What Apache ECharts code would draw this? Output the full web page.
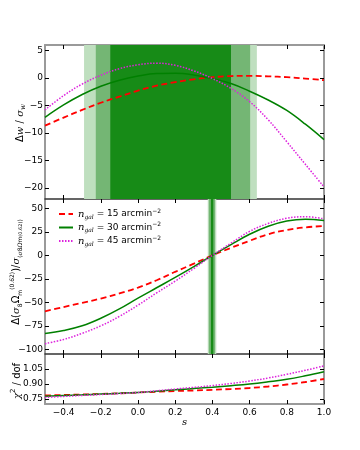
<!DOCTYPE html>
<html><head><meta charset="utf-8">
<script src="https://cdn.jsdelivr.net/npm/echarts@6/dist/echarts.min.js"></script>
<style>html,body{margin:0;padding:0;background:#fff}#c{width:360px;height:450px}</style>
</head><body><div id="c"></div>
<script>
const S = [-0.5,-0.4,-0.3,-0.2,-0.1,0.0,0.1,0.2,0.3,0.4,0.5,0.6,0.7,0.8,0.9,1.0];
const dw15 = [-8.66,-7.2,-5.8,-4.5,-3.4,-2.3,-1.4,-0.75,-0.25,0.15,0.35,0.4,0.3,0.15,-0.1,-0.4];
const dw30 = [-7.15,-4.9,-3.0,-1.5,-0.4,0.35,0.8,0.85,0.55,-0.1,-1.0,-2.4,-4.0,-5.9,-8.4,-11.2];
const dw45 = [-5.8,-3.2,-1.1,0.5,1.7,2.4,2.7,2.3,1.3,-0.1,-1.9,-4.3,-7.6,-11.6,-15.7,-19.8];
const dsig15 = [-59.5,-55,-50.5,-46,-40.5,-34.3,-26.5,-17.5,-8.8,0,8,15.5,22.5,27,29.8,31.3];
const dsig30 = [-83.3,-80,-75,-67,-57,-45.5,-34.5,-23.5,-12,0,11.5,22.5,31,36.5,38.4,37.2];
const dsig45 = [-94,-89.5,-83,-75,-65,-53,-40,-27.5,-14,0,13,25.5,34,39.5,41.2,38.8];
const chi15 = [0.785,0.79,0.795,0.8,0.807,0.815,0.822,0.83,0.835,0.842,0.85,0.86,0.875,0.895,0.92,0.95];
const chi30 = [0.778,0.785,0.792,0.8,0.807,0.815,0.828,0.842,0.855,0.868,0.883,0.9,0.922,0.947,0.982,1.022];
const chi45 = [0.766,0.776,0.786,0.795,0.805,0.815,0.832,0.85,0.866,0.884,0.905,0.93,0.96,0.997,1.037,1.081];
const band1 = [[-0.29,0.639],[-0.227,0.603],[-0.149,0.5]];
const band2 = [[0.375,0.421],[0.381,0.414],[0.392,0.405]];
const xTicks = [-0.4,-0.2,0.0,0.2,0.4,0.6,0.8,1.0];
const dwTicks = [5,0,-5,-10,-15,-20];
const dsigTicks = [50,25,0,-25,-50,-75,-100];
const chiTicks = [0.75,0.90,1.05];
const names = ['n15','n30','n45'];
const ngal = ['15','30','45'];

const bandColors = ['#bfdfbf','#74b674','#178b17'];
const FONT = 'DejaVu Sans';
const minus = s => s.replace('-', '\u2212');
const fmtX = v => minus(v.toFixed(1));
const fmtI = v => minus(String(Math.round(v)));
const fmtC = v => v.toFixed(2);

const grids = [
  {left:45, right:36, top:45, height:154},
  {left:45, right:36, top:199, height:155},
  {left:45, right:36, top:354, height:50}
];
const yRanges = [[-22,6],[-105,60],[0.70,1.20]];
const yTicks = [dwTicks, dsigTicks, chiTicks];
const yFmt = [fmtI, fmtI, fmtC];
const frame = '#9a9a9a';
const inner = '#333';

const xAxis = [], yAxis = [];
for (let g = 0; g < 3; g++) {
  xAxis.push({
    type:'value', gridIndex:g, position:'bottom', min:-0.5, max:1.0,
    axisLine:{show:true, onZero:false, lineStyle:{color: g<2?inner:frame, width: g<2?1.5:2}},
    axisTick:{show:true, inside:true, length:4, customValues:xTicks, lineStyle:{color:'#000'}},
    axisLabel:{show:g===2, customValues:xTicks, formatter:fmtX, color:'#000', fontFamily:FONT, fontSize:9, margin:4, showMaxLabel:true},
    splitLine:{show:false},
    name: g===2 ? 's' : '', nameLocation:'middle', nameGap:12,
    nameTextStyle:{fontStyle:'italic', fontFamily:'DejaVu Serif', fontSize:10, color:'#000'}
  });
  xAxis.push({
    type:'value', gridIndex:g, position:'top', min:-0.5, max:1.0,
    axisLine:{show:g===0, onZero:false, lineStyle:{color:frame, width:2}},
    axisTick:{show:true, inside:true, length:4, customValues:xTicks, lineStyle:{color:'#000'}},
    axisLabel:{show:false}, splitLine:{show:false}
  });
  yAxis.push({
    type:'value', gridIndex:g, position:'left', min:yRanges[g][0], max:yRanges[g][1],
    axisLine:{show:true, onZero:false, lineStyle:{color:frame, width:2}},
    axisTick:{show:true, inside:true, length:4, customValues:yTicks[g], lineStyle:{color:'#000'}},
    axisLabel:{show:true, customValues:yTicks[g], formatter:yFmt[g], color:'#000', fontFamily:FONT, fontSize:9, margin:2},
    splitLine:{show:false}
  });
  yAxis.push({
    type:'value', gridIndex:g, position:'right', min:yRanges[g][0], max:yRanges[g][1],
    axisLine:{show:true, onZero:false, lineStyle:{color:frame, width:2}},
    axisTick:{show:true, inside:true, length:4, customValues:yTicks[g], lineStyle:{color:'#000'}},
    axisLabel:{show:false}, splitLine:{show:false}
  });
}

const styles = [
  {color:'#ff0000', width:1.8, type:[6,3.5]},
  {color:'#008000', width:1.5, type:'solid'},
  {color:'#dd22dd', width:1.5, type:[1.5,1.5]}
];
const panelData = [[dw15,dw30,dw45],[dsig15,dsig30,dsig45],[chi15,chi30,chi45]];
const series = [];
[[band1,0],[band2,1]].forEach(([band,g]) => {
  series.push({
    type:'line', xAxisIndex:2*g, yAxisIndex:2*g, data:S.map((s,i)=>[s,panelData[g][1][i]]),
    symbol:'none', lineStyle:{opacity:0}, silent:true, z:1, legendHoverLink:false,
    markArea:{silent:true, data: band.map((b,k)=>[{xAxis:b[0], itemStyle:{color:bandColors[k], opacity:1}},{xAxis:b[1]}])}
  });
});
for (let g = 0; g < 3; g++) {
  for (let k = 0; k < 3; k++) {
    series.push({
      type:'line', name:names[k], xAxisIndex:2*g, yAxisIndex:2*g,
      data:S.map((s,i)=>[s, panelData[g][k][i]]),
      symbol:'none', smooth:0.4, z:3,
      lineStyle:styles[k], itemStyle:{color:styles[k].color}
    });
  }
}

const chart = echarts.init(document.getElementById('c'), null, {renderer:'canvas'});
chart.setOption({
  animation:false,
  backgroundColor:'#fff',
  grid:grids,
  xAxis, yAxis, series,
  legend:{
    data:names, orient:'vertical', left:53, top:203, itemGap:1.5, itemWidth:14, itemHeight:10,
    itemStyle:{opacity:0},
    formatter: n => '{i|n}{sub|gal}{t| = ' + ngal[names.indexOf(n)] + ' arcmin}{sup|\u22122}',
    textStyle:{
      fontFamily:FONT, fontSize:9, color:'#000',
      rich:{
        t:{fontFamily:FONT, fontSize:9, lineHeight:12},
        i:{fontFamily:'DejaVu Serif', fontStyle:'italic', fontSize:10, lineHeight:12},
        sub:{fontFamily:'DejaVu Serif', fontStyle:'italic', fontSize:6, lineHeight:12, verticalAlign:'bottom'},
        sup:{fontFamily:FONT, fontSize:6, lineHeight:12, verticalAlign:'top'}
      }
    }
  },
  graphic:[
    {type:'text', x:20, y:123, rotation:Math.PI/2, style:{
      text:'{t|\u0394}{i|w}{t| / }{i|\u03c3}{s|w}', align:'center', verticalAlign:'middle',
      rich:{t:{fontFamily:FONT,fontSize:10,lineHeight:14}, i:{fontFamily:'DejaVu Serif',fontStyle:'italic',fontSize:10,lineHeight:14}, s:{fontFamily:'DejaVu Serif',fontStyle:'italic',fontSize:7,lineHeight:14,verticalAlign:'bottom'}}
    }},
    {type:'text', x:16, y:272, rotation:Math.PI/2, style:{
      text:'{t|\u0394(}{i|\u03c3}{s|8}{t|\u03a9}{s|m}{p|(0.62)}{t|)/}{i|\u03c3}{s|(}{ss|\u03c3}{s|8}{ss|\u03a9}{s|m}{sp|(0.62)}{s|)}',
      align:'center', verticalAlign:'middle',
      rich:{
        t:{fontFamily:FONT,fontSize:10,lineHeight:14},
        i:{fontFamily:'DejaVu Serif',fontStyle:'italic',fontSize:10,lineHeight:14},
        s:{fontFamily:FONT,fontSize:6,lineHeight:14,verticalAlign:'bottom'},
        ss:{fontFamily:'DejaVu Serif',fontStyle:'italic',fontSize:6,lineHeight:14,verticalAlign:'bottom'},
        p:{fontFamily:FONT,fontSize:6,lineHeight:14,verticalAlign:'top'},
        sp:{fontFamily:FONT,fontSize:5,lineHeight:14,verticalAlign:'bottom'}
      }
    }},
    {type:'text', x:17, y:381, rotation:Math.PI/2, style:{
      text:'{i|\u03c7}{p|2}{t| / dof}', align:'center', verticalAlign:'middle',
      rich:{t:{fontFamily:FONT,fontSize:10,lineHeight:14}, i:{fontFamily:'DejaVu Serif',fontStyle:'italic',fontSize:10,lineHeight:14}, p:{fontFamily:FONT,fontSize:7,lineHeight:14,verticalAlign:'top'}}
    }}
  ]
});
</script></body></html>
